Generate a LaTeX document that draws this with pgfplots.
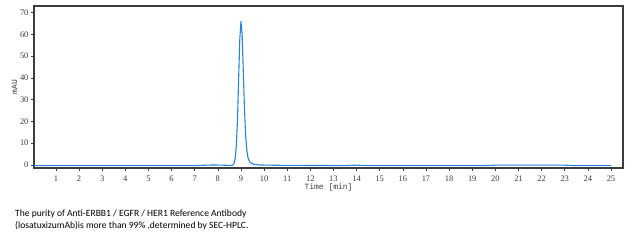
\documentclass[border=0pt]{standalone}
\usepackage{pgfplots}
\pgfplotsset{compat=1.18}
\usepackage{fontspec}
\setmainfont{Liberation Serif}
\newfontfamily\capfont{Carlito}
\newfontfamily\monofont{Liberation Mono}
\definecolor{linec}{RGB}{40,130,220}
\definecolor{axc}{RGB}{60,60,60}
\begin{document}
\begin{tikzpicture}[x=1bp,y=1bp]
\fill[white] (0,0) rectangle (635,240);
\begin{axis}[
  at={(34bp,72bp)}, anchor=south west,
  scale only axis, width=589bp, height=162bp,
  xmin=0.05, xmax=25.52, ymin=-1.4, ymax=73,
  xtick={1,2,...,25}, ytick={0,10,...,70},
  tick align=outside, tick pos=left,
  major tick length=3bp,
  axis line style={axc, line width=1.1pt},
  every tick/.style={axc, line width=0.6pt},
  tick label style={font=\fontsize{8.5}{9}\selectfont, text=axc},
  xticklabel style={yshift=-1bp},
  yticklabel style={xshift=1bp},
  /pgf/number format/assume math mode=true,
  xlabel={\monofont\fontsize{8}{9}\selectfont Time [min]},
  ylabel={\monofont\fontsize{8}{9}\selectfont mAU},
  xlabel style={text=axc, yshift=4bp},
  ylabel style={text=axc, yshift=-4bp},
  clip=true,
]
\addplot[linec, line width=1.1pt] coordinates {
(0.05,-0.3) (7.0,-0.3) (7.5,-0.1) (7.8,0.0) (8.2,-0.1) (8.5,-0.2) (8.6,-0.2)
(8.65,0.0) (8.7,0.7) (8.75,3) (8.8,9) (8.85,21) (8.9,40) (8.95,58) (9.0,66)
(9.05,60) (9.1,43) (9.15,26) (9.2,14) (9.25,7) (9.3,3.5) (9.35,2) (9.4,1.2)
(9.5,0.5) (9.6,0.2) (9.8,0.0) (10.2,-0.1) (11,-0.2) (13.5,-0.3) (14,-0.1)
(14.5,-0.3) (19.5,-0.3) (20,-0.1) (23,-0.1) (23.5,-0.3) (25,-0.3)
};
\end{axis}
\node[anchor=north west, align=left, inner sep=0pt, font=\capfont\fontsize{9.6}{11.5}\selectfont]
  at (15bp,30bp) {The purity of Anti-ERBB1 / EGFR / HER1 Reference Antibody\\(losatuxizumAb)is more than 99\% ,determined by SEC-HPLC.};
\end{tikzpicture}
\end{document}
